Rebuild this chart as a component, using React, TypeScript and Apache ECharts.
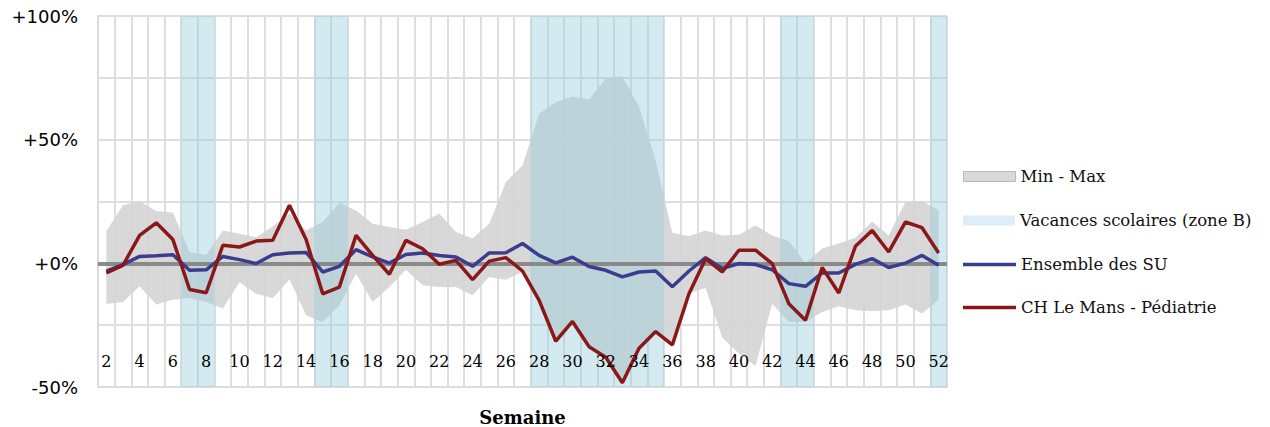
import React, { useEffect, useRef } from 'react';
import * as echarts from 'echarts';

const weeks = ['2','3','4','5','6','7','8','9','10','11','12','13','14','15','16','17','18','19','20','21','22','23','24','25','26','27','28','29','30','31','32','33','34','35','36','37','38','39','40','41','42','43','44','45','46','47','48','49','50','51','52'];

const vacationWeeks = ['7','8','15','16','28','29','30','31','32','33','34','35','43','44','52'];

const ensembleSU = [-3.2,-0.5,2.8,3.1,3.5,-2.8,-2.6,2.8,1.5,-0.1,3.5,4.2,4.4,-3.5,-1.2,5.5,2.6,0.1,3.6,4.2,3.2,2.6,-1.2,4.2,4.3,8.0,3.2,0.2,2.5,-1.3,-2.8,-5.5,-3.5,-3.1,-9.5,-3.1,2.3,-2.1,-0.1,-0.5,-2.6,-8.2,-9.3,-3.9,-3.9,-0.4,1.9,-1.7,0.1,3.2,-0.8];

const chLeMans = [-3.9,-0.8,11.3,16.4,9.6,-10.6,-11.9,7.3,6.6,9.0,9.3,23.5,9.6,-12.3,-9.6,11.3,3.2,-4.4,9.3,5.9,-0.4,1.2,-6.6,0.9,2.3,-3.1,-15,-31.5,-23.5,-33.7,-38,-48.3,-34.3,-27.6,-33,-12.3,1.9,-3.5,5.3,5.3,-0.1,-16.3,-23,-1.7,-12,6.9,13.3,4.6,16.7,14.4,4.2];

const minValues = [-16.4,-15.6,-9.3,-16.6,-14.7,-14,-15.6,-18.3,-7.6,-12.3,-14,-6.5,-21,-23.7,-17,-4.2,-15.6,-9.6,-2.6,-8.9,-9.6,-9.6,-12.9,-5.5,-6.6,-3.5,-15,-31.5,-23.5,-33.7,-38,-48.3,-34.3,-27.6,-33,-12,-10,-30,-36.5,-41.5,-16.3,-23.7,-23.7,-19.7,-17.4,-19,-19.3,-19,-16.6,-20.3,-14.7];

const maxValues = [13,23.5,25.2,21.2,20.6,4.6,3.4,13.3,12,10.5,15,20.1,13.3,16.7,24.5,21.4,16,14.7,13.6,16.7,20.1,12.7,10,16,32.9,39.6,60.5,65.2,67.5,66.2,74.7,75.6,63.2,41.6,12.3,10.9,13.3,11.3,11.6,15.4,11.3,9,0,6,8,10.3,16.9,11.3,24.8,25.3,21.4];

const Y_MIN = -50;
const Y_MAX = 100;

export default function App() {
  const ref = useRef<HTMLDivElement>(null);
  useEffect(() => {
    if (!ref.current) return;
    const chart = echarts.init(ref.current, null, { renderer: 'svg' });
    const bandDiff = maxValues.map((v, i) => +(v - minValues[i]).toFixed(2));
    const vacTop = weeks.map((w) => (vacationWeeks.includes(w) ? Y_MAX : '-'));
    const vacBottom = weeks.map((w) => (vacationWeeks.includes(w) ? Y_MIN : '-'));
    const serif = 'DejaVu Serif';
    const legendText = { fontFamily: serif, fontSize: 16.5, color: '#111' };
    chart.setOption({
      animation: false,
      grid: { left: 98, right: 323, top: 16, bottom: 40, containLabel: false, outerBoundsMode: 'none' },
      legend: [
        { left: 958, top: 163, itemWidth: 52, itemHeight: 10, itemGap: 5, textStyle: legendText, selectedMode: false,
          data: [{ name: 'Min - Max', icon: 'rect', itemStyle: { color: '#d9d9d9', borderColor: '#b8b8b8', borderWidth: 1 } }] },
        { left: 958, top: 207, itemWidth: 52, itemHeight: 10, itemGap: 5, textStyle: legendText, selectedMode: false,
          data: [{ name: 'Vacances scolaires (zone B)', icon: 'rect', itemStyle: { color: '#ddeefa', borderWidth: 0 } }] },
        { left: 958, top: 251, itemWidth: 53, itemHeight: 3.5, itemGap: 4, textStyle: legendText, selectedMode: false,
          data: [{ name: 'Ensemble des SU', icon: 'rect' }] },
        { left: 958, top: 294, itemWidth: 53, itemHeight: 3.5, itemGap: 4, textStyle: legendText, selectedMode: false,
          data: [{ name: 'CH Le Mans - Pédiatrie', icon: 'rect' }] },
      ],
      xAxis: [
        {
          type: 'category',
          data: weeks,
          boundaryGap: true,
          position: 'bottom',
          axisLine: { show: true, onZero: false, lineStyle: { color: '#dcdcdc', width: 2 } },
          axisTick: { show: false },
          axisLabel: { show: false },
          splitLine: { show: true, interval: 0, lineStyle: { color: '#dedede', width: 2 } },
          name: 'Semaine',
          nameLocation: 'middle',
          nameGap: 21,
          nameTextStyle: { fontFamily: serif, fontWeight: 'bold', fontSize: 18, color: '#000' },
        },
        {
          type: 'category',
          data: weeks,
          boundaryGap: true,
          position: 'bottom',
          z: 20,
          axisLine: { show: false, onZero: false },
          axisTick: { show: false },
          splitLine: { show: false },
          axisLabel: { inside: true, margin: 18, interval: 1, fontFamily: serif, fontSize: 16, color: '#000' },
        },
      ],
      yAxis: {
        type: 'value',
        min: Y_MIN,
        max: Y_MAX,
        interval: 25,
        axisLine: { show: true, lineStyle: { color: '#dcdcdc', width: 2 } },
        axisTick: { show: false },
        splitLine: { show: true, lineStyle: { color: '#dedede', width: 2 } },
        axisLabel: {
          margin: 20,
          fontFamily: 'DejaVu Sans',
          fontSize: 18,
          color: '#000',
          formatter: (v: number) => (v % 50 !== 0 ? '' : (v >= 0 ? '+' : '') + v + '%'),
        },
      },
      series: [
        {
          name: 'min', type: 'line', data: minValues, stack: 'band', stackStrategy: 'all',
          symbol: 'none', lineStyle: { opacity: 0, width: 0 }, silent: true, z: 1,
        },
        {
          name: 'Min - Max', type: 'line', data: bandDiff, stack: 'band', stackStrategy: 'all',
          symbol: 'none', lineStyle: { opacity: 0, width: 0 }, itemStyle: { color: '#d9d9d9' },
          areaStyle: { color: 'rgba(212,212,212,0.9)', opacity: 1 }, silent: true, z: 1,
        },
        {
          name: 'Vacances scolaires (zone B)', type: 'bar', data: vacTop, stack: 'vac', barWidth: '100%',
          itemStyle: { color: 'rgba(150,205,222,0.42)' }, silent: true, z: 3,
          markLine: {
            silent: true, symbol: 'none', z: 4, label: { show: false },
            lineStyle: { color: '#8a8a8a', width: 4, type: 'solid' },
            data: [{ yAxis: 0 }],
          },
        },
        {
          name: 'vacBottom', type: 'bar', data: vacBottom, stack: 'vac', barWidth: '100%',
          itemStyle: { color: 'rgba(150,205,222,0.42)' }, silent: true, z: 3,
        },
        {
          name: 'Ensemble des SU', type: 'line', data: ensembleSU, symbol: 'none', z: 10,
          itemStyle: { color: '#3c3c8e' }, lineStyle: { color: '#3c3c8e', width: 3.5 },
        },
        {
          name: 'CH Le Mans - Pédiatrie', type: 'line', data: chLeMans, symbol: 'none', z: 11,
          itemStyle: { color: '#8b1818' }, lineStyle: { color: '#8b1818', width: 3.5 },
        },
      ],
    });
    return () => chart.dispose();
  }, []);
  return <div ref={ref} style={{ position: 'absolute', left: 0, top: 0, width: 1270, height: 427 }} />;
}
